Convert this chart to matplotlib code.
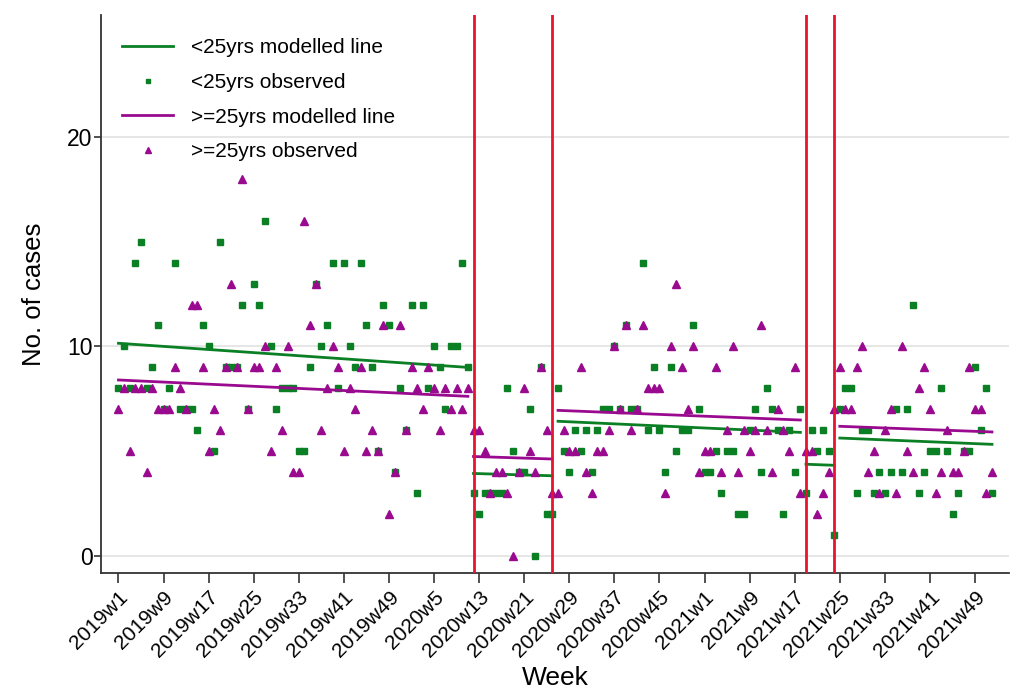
import matplotlib
matplotlib.use("Agg")
import matplotlib.pyplot as plt
import numpy as np

plt.rcParams["font.family"] = ["Liberation Sans", "DejaVu Sans"]

# weekly counts, 2019w1 .. 2021w52 (52 weeks/year, index 0..155)
under25 = [8, 10, 8, 14, 15, 8, 9, 11, 7, 8,
           14, 7, 7, 7, 6, 11, 10, 5, 15, 9,
           9, 9, 12, 7, 13, 12, 16, 10, 7, 8,
           8, 8, 5, 5, 9, 13, 10, 11, 14, 8,
           14, 10, 9, 14, 11, 9, 5, 12, 11, 4,
           8, 6, 12, 3, 12, 8, 10, 9, 7, 10,
           10, 14, 9, 3, 2, 3, 3, 3, 3, 8,
           5, 4, 4, 7, 0, 9, 2, 2, 8, 5,
           4, 6, 5, 6, 4, 6, 7, 7, 10, 7,
           11, 7, 7, 14, 6, 9, 6, 4, 9, 5,
           6, 6, 11, 7, 4, 4, 5, 3, 5, 5,
           2, 2, 6, 7, 4, 8, 7, 6, 2, 6,
           4, 7, 3, 6, 5, 6, 5, 1, 7, 8,
           8, 3, 6, 6, 3, 4, 3, 4, 7, 4,
           7, 12, 3, 4, 5, 5, 8, 5, 2, 3,
           5, 5, 9, 6, 8, 3]
over25 = [7, 8, 5, 8, 8, 4, 8, 7, 7, 7,
          9, 8, 7, 12, 12, 9, 5, 7, 6, 9,
          13, 9, 18, 7, 9, 9, 10, 5, 9, 6,
          10, 4, 4, 16, 11, 13, 6, 8, 10, 9,
          5, 8, 7, 9, 5, 6, 5, 11, 2, 4,
          11, 6, 9, 8, 7, 9, 8, 6, 8, 7,
          8, 7, 8, 6, 6, 5, 3, 4, 4, 3,
          0, 4, 8, 5, 4, 9, 6, 3, 3, 6,
          5, 5, 9, 4, 3, 5, 5, 6, 10, 7,
          11, 6, 7, 11, 8, 8, 8, 3, 10, 13,
          9, 7, 10, 4, 5, 5, 9, 4, 6, 10,
          4, 6, 5, 6, 11, 6, 4, 7, 6, 5,
          9, 3, 5, 5, 2, 3, 4, 7, 9, 7,
          7, 9, 10, 4, 5, 3, 6, 7, 3, 10,
          5, 4, 8, 9, 7, 3, 4, 6, 4, 4,
          5, 9, 7, 7, 3, 4]

# modelled segment lines: (start week, end week) and (start value, end value)
seg_weeks = [(0, 62), (63, 77), (78, 121), (122, 127), (128, 155)]
under25_fit = [(10.15, 9.0), (3.94, 3.83), (6.43, 5.90), (4.38, 4.33), (5.63, 5.33)]
over25_fit = [(8.40, 7.62), (4.75, 4.63), (6.95, 6.49), None, (6.19, 5.92)]

breaks = [63, 77, 122, 127]

tick_pos = list(range(0, 156, 8))
tick_labels = ["2019w1", "2019w9", "2019w17", "2019w25", "2019w33", "2019w41",
               "2019w49", "2020w5", "2020w13", "2020w21", "2020w29", "2020w37",
               "2020w45", "2021w1", "2021w9", "2021w17", "2021w25", "2021w33",
               "2021w41", "2021w49"]

GREEN = "#0a7f24"
PURPLE = "#990a8f"
RED = "#e8142f"

weeks = np.arange(len(under25))

fig = plt.figure(figsize=(10.11, 6.91), dpi=100)
ax = fig.add_axes([0.0999, 0.171, 0.898, 0.807])

for yv in (0, 10, 20):
    ax.axhline(yv, color="#e6e6e6", lw=1.4, zorder=0)

for k, (a, b) in enumerate(seg_weeks):
    lab = "<25yrs modelled line" if k == 0 else None
    ax.plot([a, b], under25_fit[k], color=GREEN, lw=2, zorder=2, label=lab)
ax.plot(weeks, under25, ls="none", marker="s", ms=4.8, color=GREEN,
        zorder=3, label="<25yrs observed")
for k, (a, b) in enumerate(seg_weeks):
    if over25_fit[k] is None:
        continue
    lab = ">=25yrs modelled line" if k == 0 else None
    ax.plot([a, b], over25_fit[k], color=PURPLE, lw=2, zorder=4, label=lab)
ax.plot(weeks, over25, ls="none", marker="^", ms=6, color=PURPLE,
        zorder=5, label=">=25yrs observed")

for b in breaks:
    ax.axvline(b, color=RED, lw=2, zorder=6)

ax.set_xlim(-3.1, 158)
ax.set_ylim(-0.8, 25.8)
ax.set_yticks([0, 10, 20])
ax.tick_params(axis="y", labelsize=16.5, length=5, width=1.2, pad=1, color="#333333")
ax.set_xticks(tick_pos)
ax.set_xticklabels(tick_labels, rotation=45, ha="right", rotation_mode="anchor")
ax.tick_params(axis="x", labelsize=15, length=7, width=1.2, color="#333333")
for s in ("top", "right"):
    ax.spines[s].set_visible(False)
for s in ("left", "bottom"):
    ax.spines[s].set_linewidth(1.3)
    ax.spines[s].set_color("#333333")

ax.set_xlabel("Week", fontsize=19, labelpad=4)
ax.set_ylabel("No. of cases", fontsize=18.5, labelpad=15)

ax.legend(loc="upper left", bbox_to_anchor=(0.012, 0.977), frameon=False,
          fontsize=15, handlelength=2.45, handletextpad=0.87,
          labelspacing=0.75, borderpad=0, markerscale=0.7)

fig.savefig("out.png", dpi=100)
